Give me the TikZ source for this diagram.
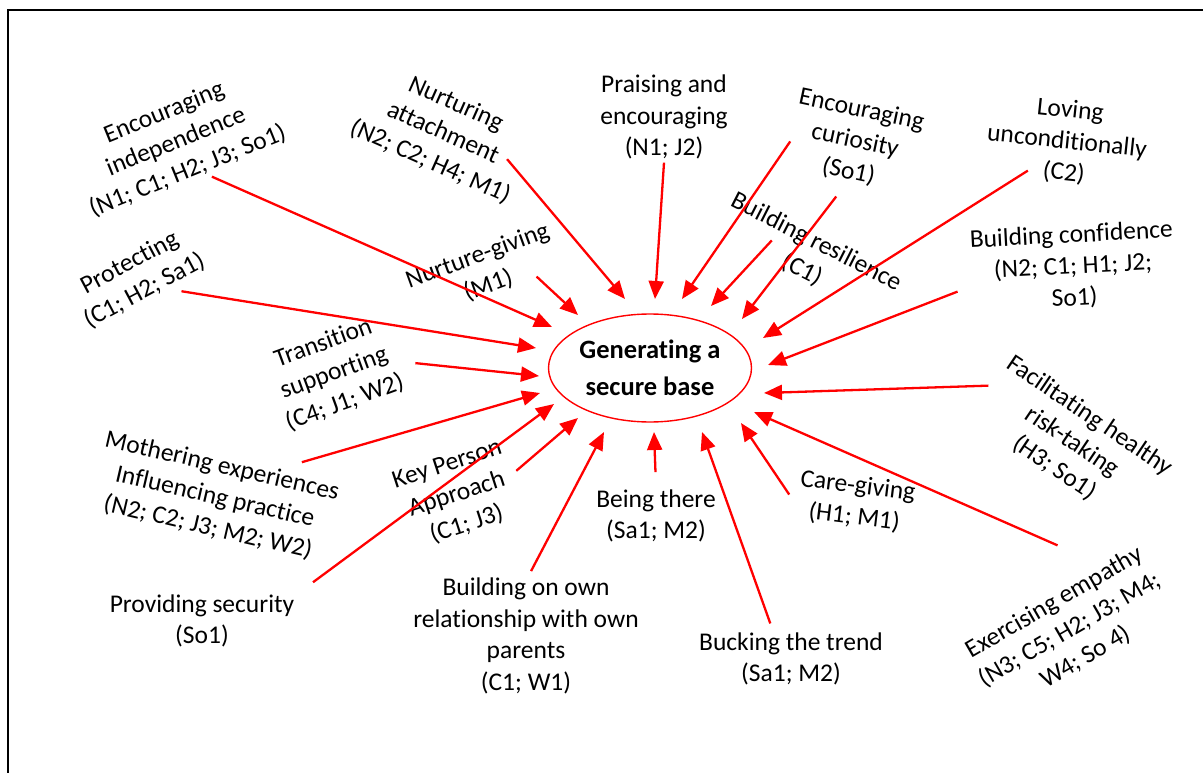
\documentclass[tikz,border=0pt]{standalone}
\usepackage{fontspec}
\setmainfont{Carlito}[Ligatures=NoCommon]
\usetikzlibrary{shapes.geometric, arrows.meta}

\begin{document}
\begin{tikzpicture}[x=1pt, y=-1pt,
    lab/.style={align=center, font=\fontsize{25.5}{31.5}\selectfont},
    hub/.style={ellipse, draw=red, line width=1.4pt, minimum width=203pt, minimum height=108pt, inner sep=0pt, align=center, font=\bfseries\fontsize{26.5}{37}\selectfont},
    arr/.style={red, line width=2.3pt, -{Triangle[length=18pt, width=15pt]}}
]
    \useasboundingbox (0,0) rectangle (1203,773);
    \draw[line width=2pt] (1203,10) -- (8,10) -- (8,773);

    % Centre
    \node[hub] (hub) at (650,368) {Generating a\\secure base};

    % Labels (top half)
    \node[lab, rotate=22] (indep) at (176,142) {Encouraging\\independence\\(N1; C1; H2; J3; So1)};
    \node[lab, rotate=-24] (nurt) at (443,133) {Nurturing\\attachment\\(N2; C2; H4; M1)};
    \node[lab] (prais) at (664,117) {Praising and\\encouraging\\(N1; J2)};
    \node[lab, rotate=-12] (curio) at (855,141) {Encouraging\\curiosity\\(So1)};
    \node[lab, rotate=-6] (loving) at (1067,142) {Loving\\unconditionally\\(C2)};
    \node[lab, rotate=3] (conf) at (1073,267) {Building confidence\\(N2; C1; H1; J2;\\So1)};
    \node[lab, rotate=20] (ngive) at (483,271) {Nurture-giving\\(M1)};
    \node[lab, rotate=-27] (resil) at (809,256) {Building resilience\\(C1)};
    \node[lab, rotate=28] (prot) at (137,277) {Protecting\\(C1; H2; Sa1)};
    \node[lab, rotate=20] (trans) at (334,373) {Transition\\supporting\\(C4; J1; W2)};
    \node[lab, rotate=-34] (facil) at (1072,442) {Facilitating healthy\\risk-taking\\(H3; So1)};

    % Labels (bottom half)
    \node[lab, rotate=-13] (moth) at (215,497) {Mothering experiences\\Influencing practice\\(N2; C2; J3; M2; W2)};
    \node[lab, rotate=18] (keyp) at (457,495) {Key Person\\Approach\\(C1; J3)};
    \node[lab] (being) at (656,516) {Being there\\(Sa1; M2)};
    \node[lab, rotate=-7] (care) at (856,502) {Care-giving\\(H1; M1)};
    \node[lab, rotate=30] (emp) at (1070,630) {Exercising empathy\\(N3; C5; H2; J3; M4;\\W4; So 4)};
    \node[lab] (prov) at (202,621) {Providing security\\(So1)};
    \node[lab] (bown) at (526,636) {Building on own\\relationship with own\\parents\\(C1; W1)};
    \node[lab] (buck) at (791,659) {Bucking the trend\\(Sa1; M2)};

    % Arrow tips round the centre
    \coordinate (t-indep) at (552,327);
    \coordinate (t-nurt) at (625,299);
    \coordinate (t-prais) at (655,299);
    \coordinate (t-curio) at (682,299);
    \coordinate (t-resil) at (711,306);
    \coordinate (t-curio2) at (742,319);
    \coordinate (t-loving) at (763,338);
    \coordinate (t-conf) at (768,365);
    \coordinate (t-facil) at (764,393);
    \coordinate (t-emp) at (754,412);
    \coordinate (t-care) at (741,423);
    \coordinate (t-buck) at (702,432);
    \coordinate (t-being) at (654,432);
    \coordinate (t-bown) at (604,432);
    \coordinate (t-keyp) at (578,418);
    \coordinate (t-prov) at (554,404);
    \coordinate (t-moth) at (540,393);
    \coordinate (t-trans) at (539,376);
    \coordinate (t-prot) at (536,348);
    \coordinate (t-ngive) at (578,315);

    % Arrows
    \draw[arr] (indep.-66) -- (t-indep);
    \draw[arr, shorten <=-23pt] (nurt.-5) -- (t-nurt);
    \draw[arr] (prais.south) -- (t-prais);
    \draw[arr, shorten <=-10pt] (curio.-161) -- (t-curio);
    \draw[arr, shorten <=-28pt] (resil.-148) -- (t-resil);
    \draw[arr, shorten <=14pt] (curio.-91) -- (t-curio2);
    \draw[arr, shorten <=-21pt] (loving.-139) -- (t-loving);
    \draw[arr, shorten <=12pt] (conf.-172) -- (t-conf);
    \draw[arr] (facil.west) -- (t-facil);
    \draw[arr, shorten <=42pt] (emp.39) -- (t-emp);
    \draw[arr, shorten <=9pt] (care.-173) -- (t-care);
    \draw[arr, shorten <=6pt] (buck.122) -- (t-buck);
    \draw[arr, shorten <=14pt] (being.north) -- (t-being);
    \draw[arr, shorten <=4pt] (bown.87) -- (t-bown);
    \draw[arr, shorten <=4pt] (keyp.3) -- (t-keyp);
    \draw[arr, shorten <=19pt] (prov.16) -- (t-prov);
    \draw[arr, shorten <=16pt] (moth.36) -- (t-moth);
    \draw[arr, shorten <=16pt] (trans.-10) -- (t-trans);
    \draw[arr, shorten <=6pt] (prot.-47) -- (t-prot);
    \draw[arr, shorten <=-7pt] (ngive.-30) -- (t-ngive);
\end{tikzpicture}
\end{document}
